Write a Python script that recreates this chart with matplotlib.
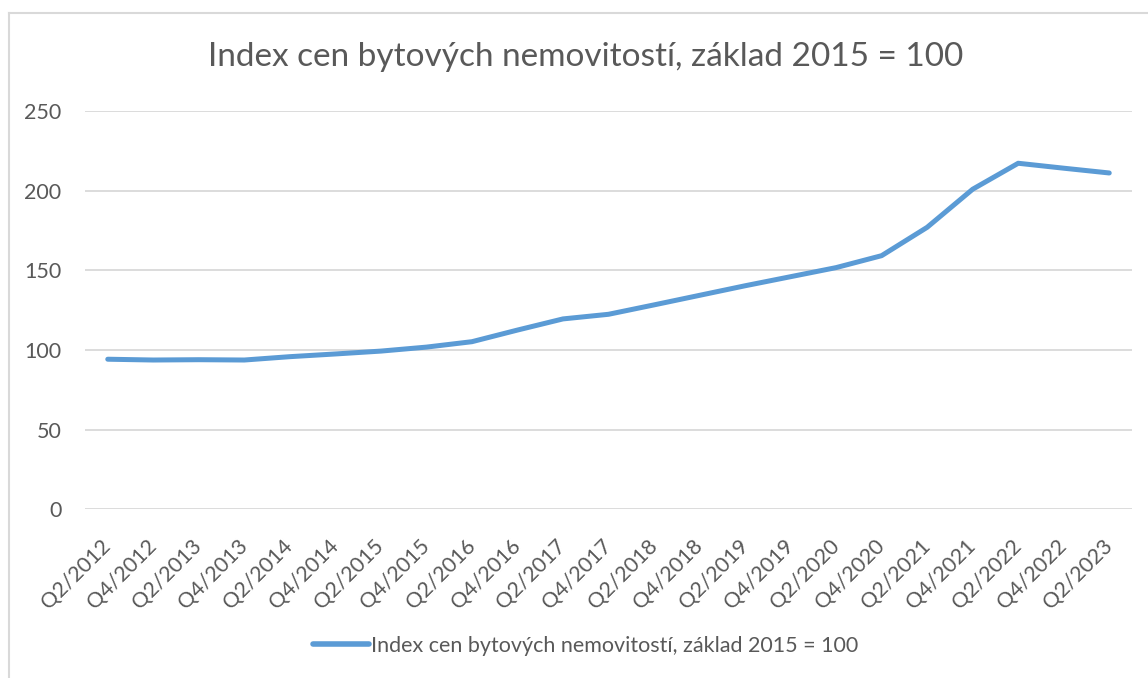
#!/usr/bin/env python3
"""Index cen bytových nemovitostí (base 2015 = 100), Excel-style line chart."""
import matplotlib
matplotlib.use("Agg")
import matplotlib.pyplot as plt  # noqa: E402
from matplotlib.lines import Line2D  # noqa: E402

TITLE = "Index cen bytových nemovitostí, základ 2015 = 100"
SERIES_NAME = "Index cen bytových nemovitostí, základ 2015 = 100"

periods = [
    "Q2/2012", "Q4/2012", "Q2/2013", "Q4/2013", "Q2/2014", "Q4/2014",
    "Q2/2015", "Q4/2015", "Q2/2016", "Q4/2016", "Q2/2017", "Q4/2017",
    "Q2/2018", "Q4/2018", "Q2/2019", "Q4/2019", "Q2/2020", "Q4/2020",
    "Q2/2021", "Q4/2021", "Q2/2022", "Q4/2022", "Q2/2023",
]
index_values = [
    94.2, 93.7, 93.9, 93.7, 95.8, 97.5, 99.3, 101.8, 105.2, 112.5, 119.5, 122.4,
    128.3, 134.3, 140.3, 146.0, 151.7, 159.2, 177.0, 200.9, 217.2, 214.1, 211.1,
]
y_ticks = [0, 50, 100, 150, 200, 250]

BLUE = "#5B9BD5"
TEXT = "#595959"
GRID = "#D9D9D9"

plt.rcParams["font.family"] = ["Lato", "DejaVu Sans"]

fig = plt.figure(figsize=(11.48, 6.78), dpi=100)
ax = fig.add_axes([85 / 1148, 1 - 509.3 / 678, (1132 - 85) / 1148, (509.3 - 111) / 678])

xs = list(range(len(periods)))
ax.plot(xs, index_values, color=BLUE, lw=3.6, solid_capstyle="round",
        solid_joinstyle="round", zorder=3)

ax.set_xlim(-0.5, len(periods) - 0.5)
ax.set_ylim(0, 250)
ax.set_yticks(y_ticks)
ax.set_xticks(xs)
ax.set_xticklabels(periods, rotation=45, ha="right", va="center",
                   rotation_mode="anchor")
ax.yaxis.grid(True, color=GRID, lw=1.3)
ax.set_axisbelow(True)
for s in ax.spines.values():
    s.set_visible(False)
ax.tick_params(axis="both", length=0, colors=TEXT, labelsize=15.5)
ax.tick_params(axis="y", pad=17)
ax.tick_params(axis="x", pad=24)

fig.text(0.51, 1 - 57 / 678, TITLE, ha="center", va="center",
         fontsize=24, color=TEXT)

handle = Line2D([], [], color=BLUE, lw=4.0, solid_capstyle="round")
fig.legend([handle], [SERIES_NAME], loc="center", bbox_to_anchor=(0.510, 1 - 646 / 678),
           frameon=False, fontsize=15.5, labelcolor=TEXT, handlelength=2.6,
           handletextpad=0.1)

# chart area frame (top and left edges visible in the original crop)
fig.add_artist(Line2D([9 / 1148, 1.0], [1 - 13 / 678, 1 - 13 / 678],
                      transform=fig.transFigure, color=GRID, lw=1.5))
fig.add_artist(Line2D([9 / 1148, 9 / 1148], [0.0, 1 - 13 / 678],
                      transform=fig.transFigure, color=GRID, lw=1.5))

fig.savefig("out.png", dpi=100, facecolor="white")
